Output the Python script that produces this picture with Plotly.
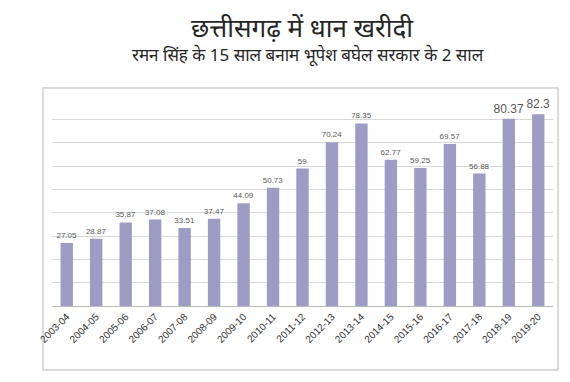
import plotly.graph_objects as go

years = ["2003-04", "2004-05", "2005-06", "2006-07", "2007-08", "2008-09", "2009-10",
         "2010-11", "2011-12", "2012-13", "2013-14", "2014-15", "2015-16", "2016-17",
         "2017-18", "2018-19", "2019-20"]
values = [27.05, 28.87, 35.87, 37.08, 33.51, 37.47, 44.09, 50.73, 59, 70.24, 78.35,
          62.77, 59.25, 69.57, 56.88, 80.37, 82.3]
labels = ["27.05", "28.87", "35.87", "37.08", "33.51", "37.47", "44.09", "50.73", "59",
          "70.24", "78.35", "62.77", "59.25", "69.57", "56.88", "80.37", "82.3"]
label_sizes = [8] * 15 + [12, 12]

title = "छत्तीसगढ़ में धान खरीदी"
subtitle = "रमन सिंह के 15 साल बनाम भूपेश बघेल सरकार के 2 साल"

T, B = 93, 84
H = 382 - T - B

def py(pix):
    return (382 - B - pix) / H

fig = go.Figure(go.Bar(
    x=years, y=values, text=labels, textposition="outside", constraintext="none",
    textfont=dict(size=label_sizes, color="#5a5a5a", family="Liberation Sans"),
    marker=dict(color="#9d9cc4", line=dict(width=0)),
    cliponaxis=False,
))

fig.update_layout(
    width=570, height=382,
    margin=dict(l=44, r=25, t=T, b=B, autoexpand=False),
    paper_bgcolor="white", plot_bgcolor="white",
    bargap=0.58,
    showlegend=False,
    font=dict(family="Noto Sans, Liberation Sans", color="#333333"),
    shapes=[
        dict(type="rect", xref="paper", yref="paper", x0=-0.018, x1=1.01, y0=py(362), y1=py(80),
             line=dict(color="#cfcfcf", width=1.5), layer="below"),
    ],
)
fig.add_annotation(text=title, xref="paper", yref="paper", x=0.5, y=py(19), yanchor="middle",
                   showarrow=False, font=dict(size=26, color="#262626"))
fig.add_annotation(text=subtitle, xref="paper", yref="paper", x=0.51, y=py(47), yanchor="middle",
                   showarrow=False, font=dict(size=17, color="#262626"))

fig.update_xaxes(type="category", tickangle=-45,
                 tickfont=dict(size=10, color="#333333", family="Liberation Sans"),
                 showline=True, linecolor="#bbbbbb", linewidth=1, ticks="", showgrid=False,
                 automargin=False)
fig.update_yaxes(range=[0, 88], dtick=10, showgrid=True, gridcolor="#d8d8d8", gridwidth=1,
                 showticklabels=False, zeroline=False, showline=False, automargin=False)

fig.write_html("out.html")
